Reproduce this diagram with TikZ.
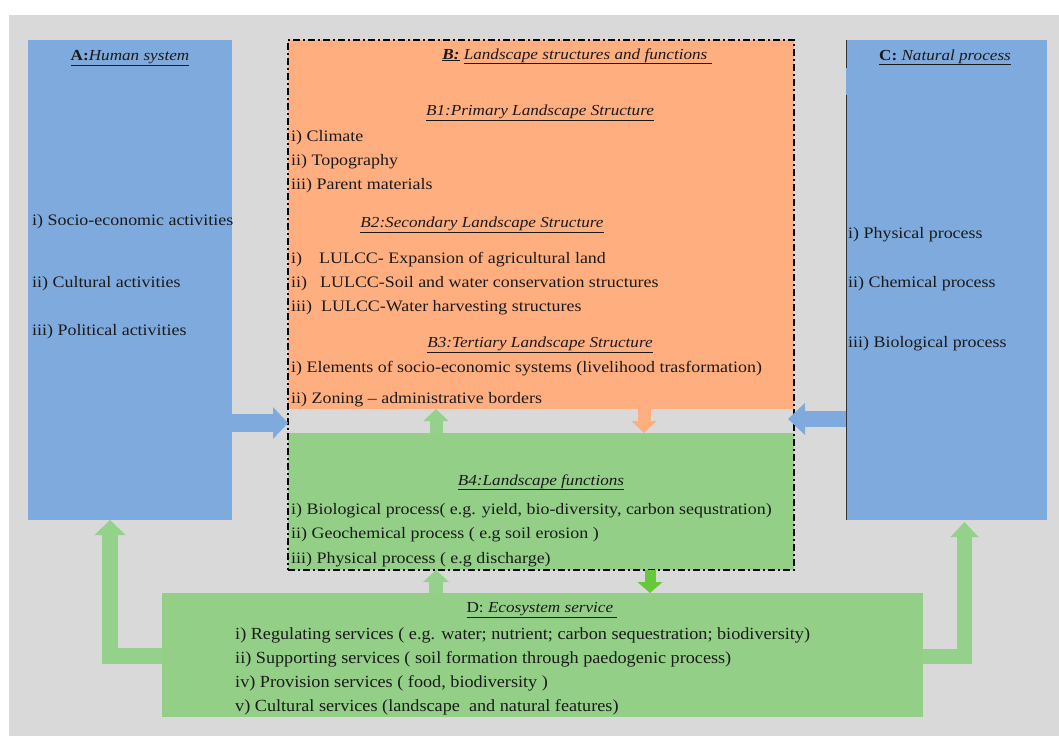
\documentclass[tikz,border=0pt]{standalone}
\usepackage{fontspec}
\setmainfont{Liberation Serif}[FakeStretch=1.12]
\newfontfamily\dfont{Liberation Serif}[FakeStretch=1.07]
\usetikzlibrary{arrows.meta}
\definecolor{bggray}{HTML}{D9D9D9}
\definecolor{boxblue}{HTML}{7FAADD}
\definecolor{boxorange}{HTML}{FFAE80}
\definecolor{boxgreen}{HTML}{94CF88}
\definecolor{arrgreen}{HTML}{94D18A}
\definecolor{darkgreen}{HTML}{66C93A}
\definecolor{txt}{HTML}{1A1A1A}
\tikzset{
  box/.style={draw=none, inner sep=0pt, outer sep=0pt, minimum width=#1},
  item/.style={anchor=base west, inner sep=0pt, text=txt, font=\fontsize{16}{19}\selectfont},
  ditem/.style={anchor=base west, inner sep=0pt, text=txt, font=\dfont\fontsize{17}{20}\selectfont},
  ttl/.style={anchor=base, inner sep=0pt, text=txt, font=\fontsize{15.3}{18}\selectfont},
  blockarrow/.style n args={4}{draw=#1, line width=#2,
     -{Triangle[width=#3, length=#4, line width=0pt, fill=#1]}},
}
\begin{document}
\begin{tikzpicture}[x=1pt,y=-1pt]
\useasboundingbox[fill=white] (0,0) rectangle (1059,736);
\fill[bggray] (9,15) rectangle (1059,736);
% boxes
\node[box=204pt, minimum height=480pt, fill=boxblue] (A) at (130,280) {};
\node[box=201pt, minimum height=480pt, fill=boxblue] (C) at (946.5,280) {};
\node[box=506pt, minimum height=369pt, fill=boxorange] (Borange) at (541,224.5) {};
\node[box=506pt, minimum height=137pt, fill=boxgreen] (B4) at (541,501.5) {};
\node[box=506pt, minimum height=530pt, draw=black, line width=1.4pt,
      dash pattern=on 7pt off 3pt on 2pt off 3pt] (B) at (541,305) {};
\node[box=761pt, minimum height=124pt, fill=boxgreen] (D) at (542.5,655) {};
% dark left edge of C
\coordinate (c1) at (846.4,68);
\coordinate (c2) at (846.4,95);
\draw[black!80, line width=0.8pt] ([xshift=0.4pt]C.north west) -- (c1) (c2) -- ([xshift=0.4pt]C.south west);
% arrows
\draw[blockarrow={boxblue}{18pt}{32pt}{15pt}] (A.east |- 0,423) -- (B.west |- 0,423);
\draw[blockarrow={boxblue}{16pt}{32pt}{17pt}] (C.west |- 0,419) -- ([xshift=-6pt]B.east |- 0,419);
\draw[blockarrow={arrgreen}{13pt}{25pt}{12pt}] (B4.north -| 436,0) -- (Borange.south -| 436,0);
\draw[blockarrow={boxorange}{13pt}{25pt}{12pt}] (Borange.south -| 644,0) -- (B4.north -| 644,0);
\draw[blockarrow={arrgreen}{14pt}{26pt}{12pt}] (D.north -| 436,0) -- (B.south -| 436,0);
\draw[blockarrow={darkgreen}{11pt}{25pt}{11pt}] (B.south -| 650,0) -- (D.north -| 650,0);
\draw[blockarrow={arrgreen}{16pt}{31pt}{15pt}] (D.west |- 0,656) -| (A.south -| 110,0);
\draw[blockarrow={arrgreen}{15pt}{28pt}{15pt}] (D.east |- 0,656) -| ([yshift=-2pt]C.south -| 964.5,0);
% A texts
\node[ttl] (Attl) at (130,60) {\underline{\textbf{A:}\textit{Human system}}};
\node[item] (A1) at (32,225) {i) Socio-economic activities};
\node[item] (A2) at (32,287) {ii) Cultural activities};
\node[item] (A3) at (32,335) {iii) Political activities};
% C texts
\node[ttl] (Cttl) at (945,60) {\underline{\textbf{C:} \textit{Natural process}}};
\node[item] (C1) at (848,238) {i) Physical process};
\node[item] (C2) at (848,287) {ii) Chemical process};
\node[item] (C3) at (848,347) {iii) Biological process};
% B texts
\node[ttl] (Bttl) at (577,59) {\underline{\textbf{\textit{B:}}}\ \underline{\textit{Landscape structures and functions\ }}};
\node[ttl] (B1ttl) at (540,115) {\underline{\textit{B1:Primary Landscape Structure}}};
\node[item] (B11) at (291,141) {i) Climate};
\node[item] (B12) at (291,165) {ii) Topography};
\node[item] (B13) at (291,189) {iii) Parent materials};
\node[ttl] (B2ttl) at (482,227) {\underline{\textit{B2:Secondary Landscape Structure}}};
\node[item] (B21) at (291,263) {\makebox[28pt][l]{i)}LULCC- Expansion of agricultural land};
\node[item] (B22) at (291,287) {\makebox[29pt][l]{ii)}LULCC-Soil and water conservation structures};
\node[item] (B23) at (291,311) {\makebox[30pt][l]{iii)}LULCC-Water harvesting structures};
\node[ttl] (B3ttl) at (540,347) {\underline{\textit{B3:Tertiary Landscape Structure}}};
\node[item] (B31) at (291,372) {i) Elements of socio-economic systems (livelihood trasformation)};
\node[item] (B32) at (291,403) {ii) Zoning -- administrative borders};
\node[ttl] (B4ttl) at (541,485) {\underline{\textit{B4:Landscape functions}}};
\node[item] (B41) at (291,514) {i) Biological process( e.g. yield, bio-diversity, carbon sequstration)};
\node[item] (B42) at (291,538) {ii) Geochemical process ( e.g soil erosion )};
\node[item] (B43) at (291,563) {iii) Physical process ( e.g discharge)};
% D texts
\node[ttl] (Dttl) at (542,612) {\underline{D: \textit{Ecosystem service\ }}};
\node[ditem] (D1) at (235,639) {i) Regulating services ( e.g. water; nutrient; carbon sequestration; biodiversity)};
\node[ditem] (D2) at (235,663) {ii) Supporting services ( soil formation through paedogenic process)};
\node[ditem] (D3) at (235,687) {iv) Provision services ( food, biodiversity )};
\node[ditem] (D4) at (235,711) {v) Cultural services (landscape\ \ and natural features)};
\end{tikzpicture}
\end{document}
